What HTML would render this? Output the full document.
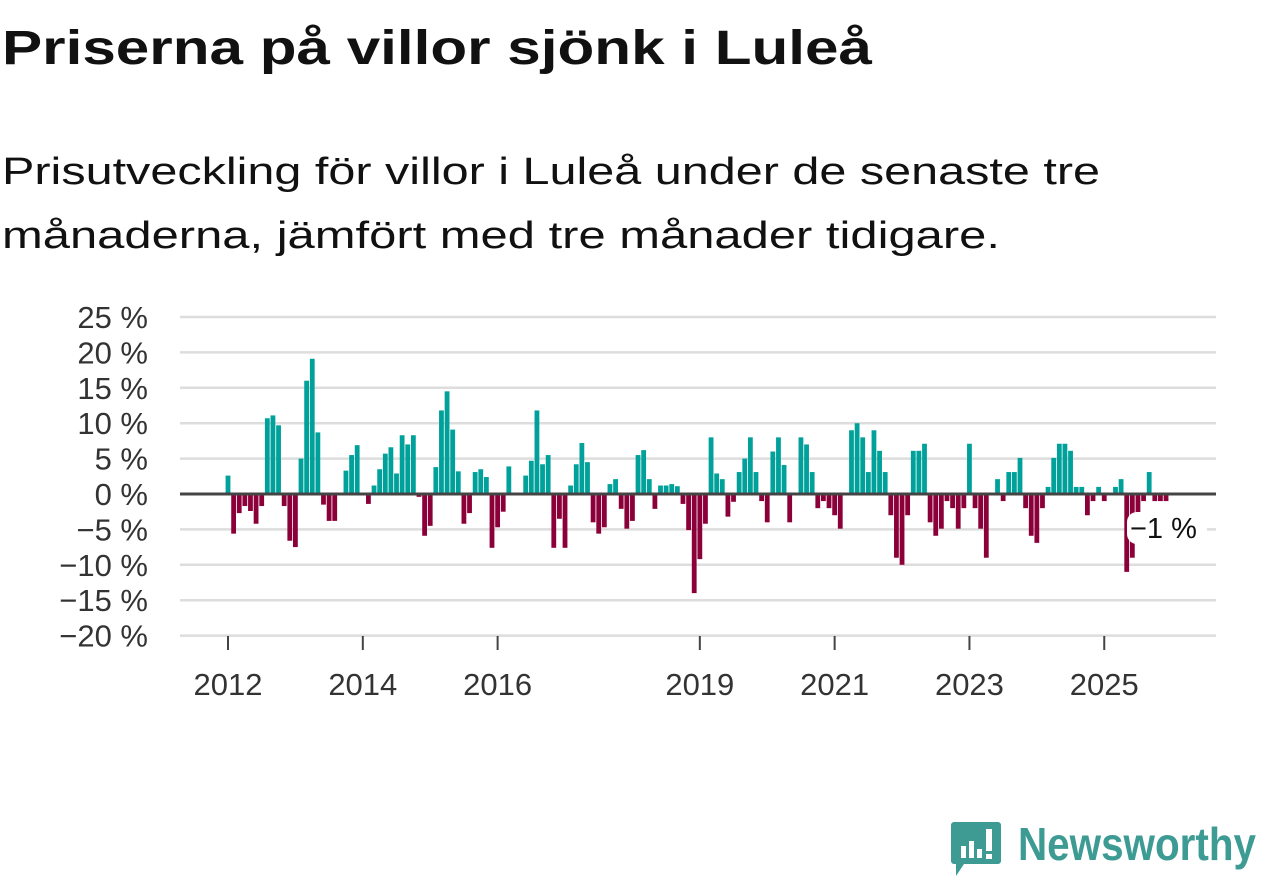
<!DOCTYPE html>
<html><head><meta charset="utf-8"><style>
html,body{margin:0;padding:0;background:#fff;}
svg{display:block;font-family:"Liberation Sans",sans-serif;}
</style></head><body>
<svg id="chart" width="1262" height="879" viewBox="0 0 1262 879">
<text x="2" y="64" font-size="48" font-weight="bold" fill="#111" textLength="870" lengthAdjust="spacingAndGlyphs">Priserna på villor sjönk i Luleå</text>
<text x="2" y="184" font-size="38" fill="#111" textLength="1098" lengthAdjust="spacingAndGlyphs">Prisutveckling för villor i Luleå under de senaste tre</text>
<text x="2" y="248" font-size="38" fill="#111" textLength="998" lengthAdjust="spacingAndGlyphs">månaderna, jämfört med tre månader tidigare.</text>
<g id="grid"></g>
<g id="yaxis"></g>
<g id="bars"></g>
<g id="xaxis"></g>
<g id="ann"></g>
<g>
<path d="M954 822 h44 a3 3 0 0 1 3 3 v36 a3 3 0 0 1 -3 3 h-34 l-8 12 v-12 h-2 a3 3 0 0 1 -3 -3 v-36 a3 3 0 0 1 3 -3z" fill="#3d9b94"/>
<rect x="961" y="846" width="5" height="12" fill="#fff"/><rect x="969" y="841" width="5" height="17" fill="#fff"/><rect x="977" y="849" width="5" height="9" fill="#fff"/><rect x="986" y="829" width="6" height="22" fill="#fff"/><rect x="986" y="854" width="6" height="5" fill="#fff"/>
<text x="1018" y="860" font-size="46" font-weight="bold" fill="#3d9b94" textLength="238" lengthAdjust="spacingAndGlyphs">Newsworthy</text>
</g>
</svg>
<script>
const startYear = 2012;
const values = [2.6,-5.6,-2.7,-1.7,-2.4,-4.2,-1.7,10.7,11.1,9.7,-1.7,-6.6,
-7.5,5.0,16.0,19.1,8.7,-1.5,-3.8,-3.8,0,3.3,5.5,6.9,
0,-1.4,1.2,3.5,5.7,6.6,2.9,8.3,7.0,8.3,-0.4,-5.9,
-4.5,3.8,11.8,14.5,9.1,3.2,-4.2,-2.7,3.1,3.5,2.4,-7.6,
-4.7,-2.5,3.9,0,0,2.6,4.7,11.8,4.2,5.5,-7.6,-3.5,
-7.6,1.2,4.2,7.2,4.5,-4.0,-5.6,-4.7,1.4,2.1,-2.1,-4.9,
-3.8,5.5,6.2,2.1,-2.1,1.2,1.2,1.4,1.1,-1.4,-5.1,-14.0,
-9.2,-4.2,8.0,2.9,2.1,-3.2,-1.1,3.1,5.0,8.0,3.1,-1.0,
-4.0,6.0,8.0,4.1,-4.0,0,8.0,7.0,3.1,-2.0,-1.0,-2.0,
-3.0,-4.9,0,9.0,10.0,8.0,3.1,9.0,6.1,3.1,-3.0,-9.0,
-10.0,-3.0,6.1,6.1,7.1,-4.0,-5.9,-4.9,-1.0,-2.0,-4.9,-2.0,
7.1,-2.0,-4.9,-9.0,0,2.1,-1.0,3.1,3.1,5.1,-2.0,-5.9,
-6.9,-2.0,1.0,5.1,7.1,7.1,6.1,1.0,1.0,-3.0,-1.0,1.0,
-1.0,0,1.0,2.1,-11.0,-9.0,-3.8,-1.0,3.1,-1.0,-1.0,-1.0];
const yTicks = [25,20,15,10,5,0,-5,-10,-15,-20];
const yTickLabels = ["25 %","20 %","15 %","10 %","5 %","0 %","−5 %","−10 %","−15 %","−20 %"];
const xTickYears = [2012,2014,2016,2019,2021,2023,2025];
const annotationLabel = "−1 %";

const NS="http://www.w3.org/2000/svg";
function el(tag,attrs,parent){const e=document.createElementNS(NS,tag);for(const k in attrs)e.setAttribute(k,attrs[k]);parent.appendChild(e);return e;}
const y0=494, pxPer=7.08;
function yScale(v){return y0 - v*pxPer;}
const m0=228, mStep=5.617;
function xScale(i){return m0 + i*mStep;}
const grid=document.getElementById('grid'), ya=document.getElementById('yaxis');
yTicks.forEach((t,k)=>{
  if(t!==0){const g=el('line',{x1:180,x2:1216,y1:yScale(t),y2:yScale(t),stroke:'#ddd','stroke-width':2.5},grid);
  
  }
  const tx=el('text',{x:148,y:yScale(t)+11,'font-size':31,fill:'#333','text-anchor':'end'},ya);
  tx.textContent=yTickLabels[k];
  
  
});
const bars=document.getElementById('bars');
values.forEach((v,i)=>{
  if(v===0)return;
  const y=Math.min(yScale(v),y0), h=Math.abs(yScale(v)-y0);
  const r=el('rect',{x:xScale(i)-2.4,y:y,width:4.8,height:h,fill:v>0?'#00a19a':'#8c0039'},bars);
  
  
});
const zl=el('line',{x1:180,x2:1216,y1:y0,y2:y0,stroke:'#444','stroke-width':3},bars);


const xa=document.getElementById('xaxis');
xTickYears.forEach(yr=>{
  const x=xScale((yr-startYear)*12);
  const tk=el('line',{x1:x,x2:x,y1:636,y2:650,stroke:'#444','stroke-width':2},xa);
  
  
  const t=el('text',{x:x,y:695,'font-size':31,fill:'#333','text-anchor':'middle'},xa);
  t.textContent=String(yr);
  
  
});
const ann=document.getElementById('ann');
const bg=el('rect',{x:1127,y:512,width:80,height:32,rx:10,fill:'#fff'},ann);


const at=el('text',{x:1130,y:538,'font-size':29,fill:'#111'},ann);
at.textContent=annotationLabel;


</script>
</body></html>
